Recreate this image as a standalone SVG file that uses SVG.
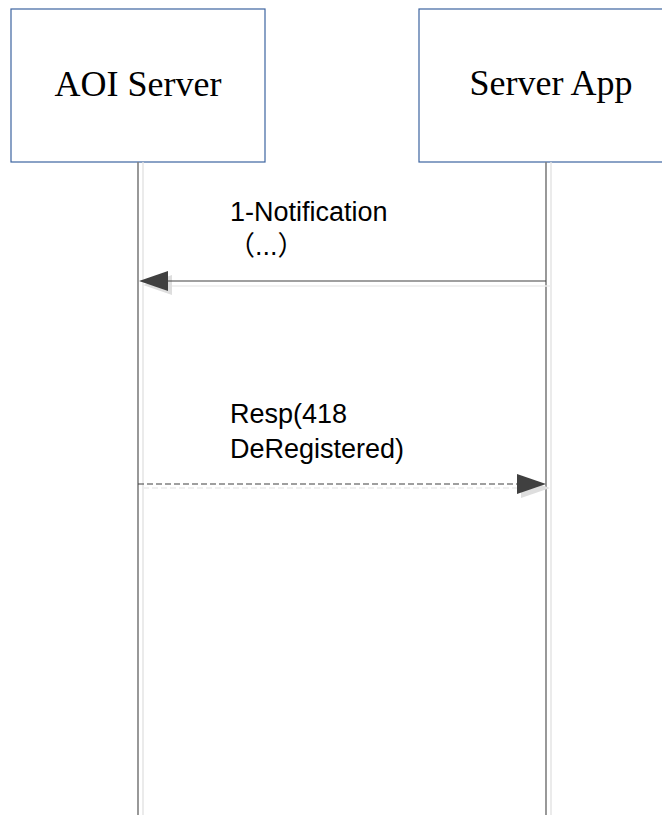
<svg xmlns="http://www.w3.org/2000/svg" width="662" height="816" viewBox="0 0 662 816">
<style>
.box{fill:#ffffff;stroke:#3d64a0;stroke-width:1.2}
.title{font-family:"Liberation Serif","Times New Roman",serif;font-size:36px;fill:#000;text-anchor:middle}
.lbl{font-family:"Liberation Sans",Arial,"Noto Sans CJK SC",sans-serif;font-size:27px;fill:#000}
.life{stroke:#7f7f7f;stroke-width:1.6;fill:none}
.lifesh{stroke:#e3e3e3;stroke-width:1.4;fill:none}
.msg{stroke:#404040;stroke-width:1.1;fill:none}
.msgsh{stroke:#ececec;stroke-width:1.4;fill:none}
.head{fill:#404040}
.headsh{fill:#dedede}
</style>
<rect x="0" y="0" width="662" height="816" fill="#ffffff"/>
<g id="aoi-server">
<rect class="box" x="11" y="9" width="254" height="153"/>
<text class="title" x="138" y="96">AOI Server</text>
<line class="lifesh" x1="143" y1="162" x2="143" y2="815"/>
<line class="life" x1="138" y1="162" x2="138" y2="815"/>
</g>
<g id="server-app">
<rect class="box" x="419" y="9" width="260" height="153"/>
<text class="title" x="551" y="95">Server App</text>
<line class="lifesh" x1="551" y1="162" x2="551" y2="815"/>
<line class="life" x1="546" y1="162" x2="546" y2="815"/>
</g>
<g id="connectors">
<g id="msg1">
<line class="msgsh" x1="170" y1="286" x2="551" y2="286"/>
<polygon class="headsh" points="143,285 172,275 172,295"/>
<line class="msg" x1="165" y1="281" x2="546" y2="281"/>
<polygon class="head" points="139,281 168,271 168,291"/>
<text class="lbl" x="230" y="221">1-Notification</text>
<text class="lbl" x="228" y="255">（...）</text>
</g>
<g id="msg2">
<line class="msgsh" x1="143" y1="488" x2="520" y2="488" stroke-dasharray="6,3"/>
<polygon class="headsh" points="521,478 550,488 521,498"/>
<line class="msg" x1="138" y1="484" x2="518" y2="484" stroke-dasharray="6,3"/>
<polygon class="head" points="517,474 546,484 517,494"/>
<text class="lbl" x="230" y="423">Resp(418</text>
<text class="lbl" x="230" y="458">DeRegistered)</text>
</g>
</g>
</svg>
